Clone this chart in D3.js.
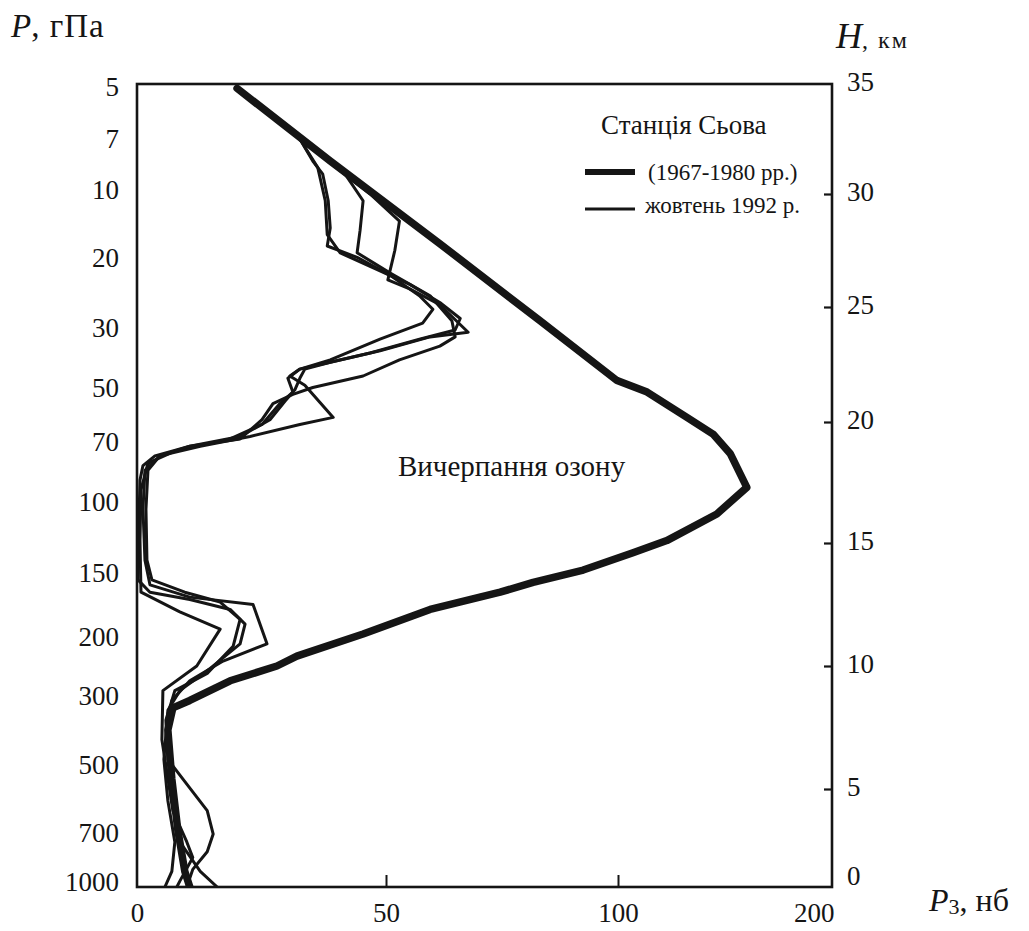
<!DOCTYPE html>
<html><head><meta charset="utf-8">
<script src="https://cdn.jsdelivr.net/npm/d3@7"></script>
<style>
body{margin:0;background:#fff}
svg{display:block}
text{font-family:"Liberation Serif","Times New Roman",serif;fill:#151515}
</style>
</head><body>
<svg id="c" width="1029" height="931"></svg>
<script>
// ---- data ----
const ozoneTicks = [0, 50, 100, 150];
const ozoneTickLabels = ["0", "50", "100", "200"];
const heightTicks = [0, 5, 10, 15, 20, 25, 30, 35];
const pressureLabels = ["5","7","10","20","30","50","70","100","150","200","300","500","700","1000"];
const pressureHeights = [34.9, 32.5, 30.2, 27.2, 24.1, 21.5, 19.2, 16.7, 13.8, 11.2, 8.8, 6.0, 2.8, 0.3];

// mean profile 1967-1980: [ozone, height km]
const mean1967_1980 = [[20.1,34.8],[38.8,31.5],[61.6,27.8],[83.2,24.4],[99.8,21.8],[106.8,21.3],[116.1,20.2],[122.2,19.5],[126.2,18.7],[130.1,17.3],[123.1,16.2],[111.4,15.1],[103.5,14.6],[92.5,13.9],[81.7,13.4],[74.6,13.0],[59.5,12.3],[45.4,11.3],[32.1,10.4],[28.1,10.0],[18.7,9.4],[10.6,8.6],[7.2,8.3],[6.2,7.4],[7.0,5.4],[8.2,2.9],[9.6,0.8],[10.6,0]];

// October 1992 soundings
const oct1992_1 = [[20.1,34.8],[32.7,32.5],[35.3,31.5],[37.3,30.9],[38.4,29.7],[38.8,28.5],[38.2,27.7],[44.2,27.2],[50.9,26.4],[57.2,25.5],[60.1,24.9],[57.9,24.3],[48.8,23.6],[38.8,22.7],[32.7,22.3],[30.3,21.9],[31.3,21.3],[28.7,20.8],[25.1,19.9],[18.7,19.3],[7.6,18.8],[2.2,18.3],[0.8,17.2],[0.6,15.1],[0.8,13.0],[8.6,12.2],[16.7,11.5],[12.0,10.0],[5.2,9.0],[5.0,7.0],[7.2,3.9],[10.0,2.3],[11.2,1.5],[8.6,0.3],[8.0,0]];
const oct1992_2 = [[20.1,34.8],[32.7,32.5],[41.8,30.9],[45.4,29.7],[44.8,28.4],[44.2,27.4],[50.9,26.5],[59.5,25.5],[64.2,24.4],[64.9,23.7],[61.6,23.3],[52.9,22.7],[45.4,22.0],[35.3,21.5],[31.3,21.2],[27.3,20.8],[25.1,20.1],[20.7,19.3],[10.6,19.0],[4.6,18.6],[2.2,18.0],[1.8,16.4],[2.0,14.3],[3.0,13.5],[9.6,13.0],[16.7,12.6],[20.7,11.9],[19.3,10.8],[14.1,9.7],[7.6,9.0],[5.8,7.8],[6.2,6.2],[10.0,5.2],[14.1,3.9],[15.3,2.7],[14.1,1.8],[11.2,0.9],[10.0,0]];
const oct1992_3 = [[20.1,34.8],[32.7,32.5],[46.8,30.0],[52.9,28.8],[51.9,27.5],[50.4,26.2],[55.1,25.8],[61.6,25.1],[67.7,23.9],[59.5,23.7],[48.8,23.1],[38.8,22.6],[32.7,22.3],[30.7,22.0],[33.7,21.6],[39.4,20.2],[32.7,19.9],[22.7,19.4],[12.7,19.0],[4.6,18.6],[1.6,18.0],[1.2,16.4],[1.6,14.3],[2.6,13.3],[10.6,12.8],[23.3,12.5],[26.1,10.9],[17.3,10.2],[10.6,9.4],[7.0,8.6],[6.2,7.0],[7.0,4.4],[8.6,2.3],[12.7,0.8],[16.1,0]];
const oct1992_4 = [[20.1,34.8],[32.7,32.5],[36.3,31.2],[37.8,29.7],[38.2,28.2],[40.8,27.4],[47.8,26.7],[55.1,26.0],[61.6,25.2],[66.0,24.5],[64.9,24.0],[57.2,23.6],[46.8,23.0],[38.8,22.6],[33.7,22.3],[32.7,21.9],[31.7,21.4],[29.7,20.9],[26.7,20.1],[20.7,19.4],[10.6,19.0],[3.6,18.6],[1.2,18.2],[0.6,17.6],[0.4,16.0],[0.2,13.5],[2.6,13.0],[10.6,12.7],[18.7,12.3],[21.7,11.7],[20.7,10.9],[14.7,9.9],[8.6,9.0],[6.2,8.2],[5.4,6.2],[6.2,4.4],[7.6,2.3],[7.0,0.8],[5.6,0]];

const octProfiles = [oct1992_1, oct1992_2, oct1992_3, oct1992_4];

// ---- drawing ----
const svg = d3.select("#c");
const ink = "#151515";
const serif = '"Liberation Serif", "Times New Roman", serif';

const x = d3.scaleLinear().domain(ozoneTicks).range([137, 386, 618, 832]);
const y = d3.scaleLinear().domain(heightTicks).range([887, 789, 666, 543, 422, 307, 194, 84]);
const yP = d3.scaleOrdinal().domain(pressureLabels).range(pressureHeights.map(h => y(h)));

svg.append("defs").append("clipPath").attr("id","clip")
  .append("rect").attr("x", x(0)).attr("y", y(35)).attr("width", x(150)-x(0)).attr("height", y(0)-y(35));

const line = d3.line().x(d => x(d[0])).y(d => y(d[1]));

const g = svg.append("g").attr("clip-path","url(#clip)");
g.selectAll("path.thin").data(octProfiles).join("path")
  .attr("class","thin")
  .attr("d", line)
  .attr("fill","none").attr("stroke", ink).attr("stroke-width", 3)
  .attr("stroke-linejoin","round").attr("stroke-linecap","round");
g.append("path").datum(mean1967_1980)
  .attr("d", line)
  .attr("fill","none").attr("stroke", ink).attr("stroke-width", 7.5)
  .attr("stroke-linejoin","round").attr("stroke-linecap","round");

// frame
svg.append("rect").attr("x", x(0)).attr("y", y(35)).attr("width", x(150)-x(0)).attr("height", y(0)-y(35))
  .attr("fill","none").attr("stroke", ink).attr("stroke-width", 2.6);

// bottom axis
const ax = svg.append("g").attr("transform", `translate(0,${y(0)})`)
  .call(d3.axisBottom(x).tickValues(ozoneTicks).tickFormat((d,i) => ozoneTickLabels[i])
    .tickSizeInner(-12).tickSizeOuter(0).tickPadding(16))
  .attr("font-family", serif).attr("font-size", 27);
ax.select(".domain").remove();
ax.selectAll("line").attr("stroke", ink).attr("stroke-width", 2);
ax.selectAll("text").attr("fill", ink).style("font-family", serif);
ax.selectAll(".tick").filter(d => d === 150).select("text").attr("text-anchor","end").attr("dx", 2);
ax.selectAll(".tick").filter(d => d === 0 || d === 150).select("line").remove();

// right axis (H, km)
const ar = svg.append("g").attr("transform", `translate(${x(150)},0)`)
  .call(d3.axisRight(y).tickValues(heightTicks).tickSizeInner(-8).tickSizeOuter(0).tickPadding(15))
  .attr("font-family", serif).attr("font-size", 27);
ar.select(".domain").remove();
ar.selectAll("line").attr("stroke", ink).attr("stroke-width", 2.2);
ar.selectAll("text").attr("fill", ink).attr("dy","0.25em").style("font-family", serif);
ar.selectAll(".tick").filter(d => d === 0 || d === 35).select("line").remove();
ar.selectAll(".tick").filter(d => d === 0).select("text").attr("dy","-0.1em");

// left axis (P, hPa)
const al = svg.append("g").attr("transform", `translate(${x(0)},0)`)
  .call(d3.axisLeft(yP).tickSize(0).tickPadding(18))
  .attr("font-family", serif).attr("font-size", 27);
al.select(".domain").remove();
al.selectAll("text").attr("fill", ink).attr("dy","0.33em").style("font-family", serif);

// axis titles
const tP = svg.append("text").attr("x", 11).attr("y", 37).attr("font-size", 33);
tP.append("tspan").attr("font-style","italic").text("P");
tP.append("tspan").attr("letter-spacing", 1).text(", гПа");

const tH = svg.append("text").attr("x", 836).attr("y", 48);
tH.append("tspan").attr("font-style","italic").attr("font-size", 36).text("H");
tH.append("tspan").attr("font-size", 24).attr("letter-spacing", 2).text(", км");

const tO = svg.append("text").attr("x", 929).attr("y", 911).attr("font-size", 32);
tO.append("tspan").attr("font-style","italic").text("P");
tO.append("tspan").attr("font-size", 22).attr("dy", 3).text("3");
tO.append("tspan").attr("dy", -3).text(", нб");

// legend
svg.append("text").attr("x", 601).attr("y", 134).attr("font-size", 27).text("Станція Сьова");
svg.append("line").attr("x1", 585).attr("x2", 635).attr("y1", 172).attr("y2", 172)
  .attr("stroke", ink).attr("stroke-width", 6);
svg.append("text").attr("x", 648).attr("y", 180).attr("font-size", 23).text("(1967-1980 рр.)");
svg.append("line").attr("x1", 585).attr("x2", 635).attr("y1", 209).attr("y2", 209)
  .attr("stroke", ink).attr("stroke-width", 3);
svg.append("text").attr("x", 645).attr("y", 213).attr("font-size", 23).text("жовтень 1992 р.");

// annotation
svg.append("text").attr("x", 398).attr("y", 476).attr("font-size", 29).text("Вичерпання озону");
</script>
</body></html>
